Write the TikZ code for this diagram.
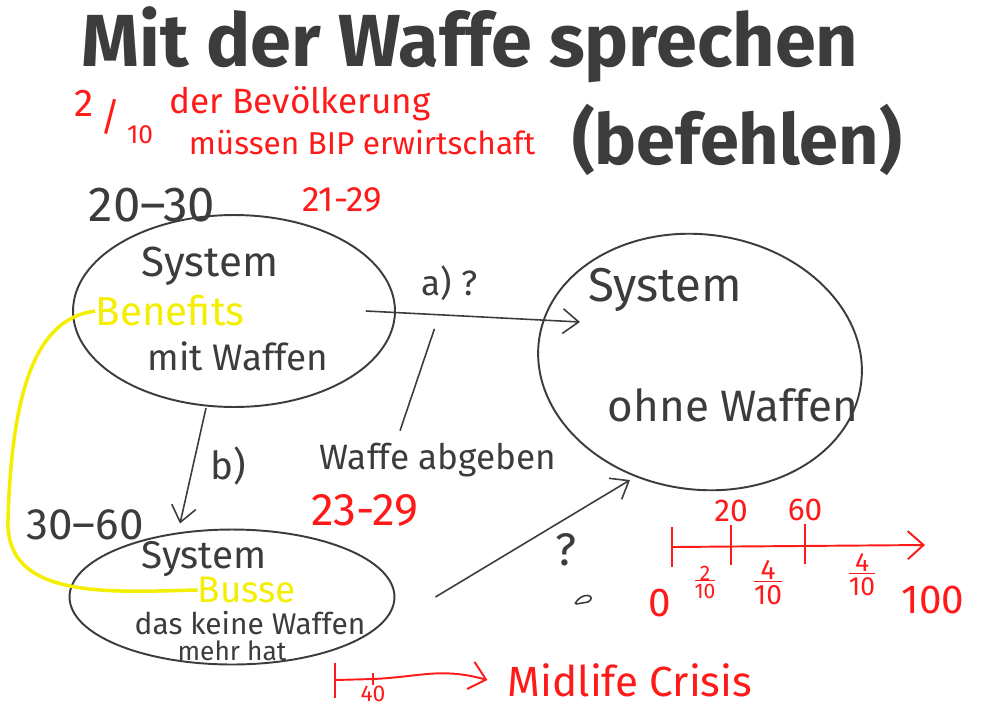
\documentclass[tikz,border=0pt]{standalone}
\usepackage{fontspec}
\setmainfont{Fira Sans}
\usetikzlibrary{arrows.meta,positioning,calc,shapes.geometric}
\definecolor{ink}{HTML}{3C3C3C}
\definecolor{pen}{HTML}{FF1A1A}
\definecolor{marker}{HTML}{F4EE00}
\newcommand{\hfrac}[2]{\begin{tabular}{@{}c@{}}#1\\[-4pt]\hline\noalign{\vskip1pt}#2\end{tabular}}

\begin{document}
\begin{tikzpicture}[
  x=0.02cm, y=-0.02cm,
  blob/.style={
    ellipse,
    draw=ink,
    line width=1.1pt,
    inner sep=0pt
  },
  inktext/.style={text=ink, inner sep=0pt, font=\fontsize{24}{26}\selectfont},
  redtext/.style={text=pen, inner sep=0pt, font=\fontsize{20}{22}\selectfont},
  hltext/.style={text=marker, inner sep=0pt, font=\fontsize{23}{25}\selectfont},
  arrow/.style={-{Straight Barb[length=9pt,width=14pt]}, draw=ink, line width=0.9pt},
  redarrow/.style={-{Straight Barb[length=9pt,width=16pt]}, draw=pen, line width=1.1pt},
  hlline/.style={draw=marker, line width=2pt}
]
\useasboundingbox[fill=white] (0,0) rectangle (1000,707);

% headings
\node[inktext, font=\fontsize{42}{44}\selectfont\bfseries] (title) at (470,45) {Mit der Waffe sprechen};
\node[inktext, font=\fontsize{40}{44}\selectfont\bfseries] (befehlen) at (737,140) {(befehlen)};
\node[redtext, font=\fontsize{22}{24}\selectfont] (share) at (114,117) {\raisebox{8pt}{2}\,/\,\raisebox{-7pt}{\fontsize{15}{16}\selectfont 10}};
\node[redtext] (bev) at (300,104) {der Bevölkerung};
\node[redtext, font=\fontsize{18}{20}\selectfont] (bip) at (362,142) {müssen BIP erwirtschaft};

% systems
\node[blob, minimum width=6.44cm, minimum height=3.84cm] (sysmit) at (234,311) {};
\node[blob, minimum width=6.5cm, minimum height=5.1cm, rotate=-8] (sysohne) at (700,362) {};
\node[blob, minimum width=6.5cm, minimum height=2.7cm] (sysbusse) at (232,597) {};

\node[inktext, font=\fontsize{28}{30}\selectfont] (age1) at (152,205) {20--30};
\node[redtext] (age1r) at (342,200) {21-29};
\node[inktext] (mit1) at (210,266) {System};
\node[hltext] (benefits) at (170,311) {Benefits};
\node[inktext, font=\fontsize{21}{23}\selectfont] (mit2) at (238,356) {mit Waffen};

\node[inktext, font=\fontsize{27}{29}\selectfont] (ohne1) at (665,290) {System};
\node[inktext, font=\fontsize{25}{27}\selectfont] (ohne2) at (733,405) {ohne Waffen};

\node[inktext, font=\fontsize{25}{27}\selectfont] (age2) at (85,525) {30--60};
\node[inktext, font=\fontsize{22}{24}\selectfont] (busse1) at (204,559) {System};
\node[hltext, font=\fontsize{21}{23}\selectfont] (busse) at (247,590) {Busse};
\node[inktext, font=\fontsize{17}{19}\selectfont] (busse2) at (250,623) {das keine Waffen};
\node[inktext, font=\fontsize{15}{17}\selectfont] (busse3) at (232,651) {mehr hat};

% transitions
\draw[arrow] ([xshift=-0.6cm]sysmit.east) -- coordinate[pos=0.25] (amid) ($(sysohne.center)+(-120,-40)$);
\node[inktext, font=\fontsize{20}{22}\selectfont, above=0.25cm of amid, xshift=0.6cm] (qa) {a) ?};
\node[inktext, font=\fontsize{20}{22}\selectfont] (abgeben) at (438,460) {Waffe abgeben};
\node[redtext, font=\fontsize{26}{28}\selectfont] (age3) at (365,510) {23-29};
\draw[draw=ink, line width=0.9pt] ([xshift=-0.76cm,yshift=0.24cm]abgeben.north) -- ([xshift=0.3cm,yshift=-0.3cm]amid);

\draw[arrow] ([xshift=-0.56cm]sysmit.south) -- ([xshift=-1.04cm,yshift=0.1cm]sysbusse.north);
\node[inktext, font=\fontsize{22}{24}\selectfont] (qb) at (228,466) {b)};

\draw[arrow] ([xshift=0.8cm]sysbusse.east) -- (630,480) coordinate (cend);
\node[inktext, font=\fontsize{26}{28}\selectfont] (qc) at (566,550) {?};
\draw[draw=ink, line width=0.9pt] (575,604) .. controls (582,590) and (598,596) .. (588,602) -- (576,604);

% benefit to busse
\draw[hlline] (benefits.west) .. controls (40,318) and (12,380) .. (8,520)
  .. controls (5,600) and (110,592) .. (busse.west);

% age scale
\coordinate (t0) at (672,547);
\coordinate (t20) at (731,545);
\coordinate (t60) at (805,544);
\coordinate (t100) at (925,545);
\draw[redarrow] (t0) -- (t100);
\foreach \t in {t0,t20,t60}
  \draw[draw=pen, line width=1.1pt] ([yshift=0.4cm]\t) -- ([yshift=-0.4cm]\t);
\node[redtext, font=\fontsize{18}{20}\selectfont, above=0.45cm of t20] (l20) {20};
\node[redtext, font=\fontsize{18}{20}\selectfont, above=0.45cm of t60] (l60) {60};
\node[redtext, font=\fontsize{12}{13}\selectfont] (f1) at (705,585) {\hfrac{2}{10}};
\node[redtext, font=\fontsize{16}{17}\selectfont] (f2) at (768,586) {\hfrac{4}{10}};
\node[redtext, font=\fontsize{15}{16}\selectfont] (f3) at (862,578) {\hfrac{4}{10}};
\node[redtext, font=\fontsize{23}{25}\selectfont] (l0) at (660,603) {0};
\node[redtext, font=\fontsize{23}{25}\selectfont] (l100) at (933,600) {100};

% midlife
\coordinate (m0) at (335,680);
\coordinate (m40) at (373,679);
\draw[draw=pen, line width=1.1pt] ([yshift=0.35cm]m0) -- ([yshift=-0.35cm]m0);
\draw[draw=pen, line width=1.1pt] ([yshift=0.12cm]m40) -- ([yshift=-0.12cm]m40);
\node[redtext, font=\fontsize{13}{14}\selectfont, below=0.14cm of m40] (l40) {40};
\node[redtext, font=\fontsize{24}{26}\selectfont] (midlife) at (630,680) {Midlife Crisis};
\draw[redarrow] (m0) -- (m40) .. controls (420,677) and (440,667) .. ([xshift=-0.4cm]midlife.west);
\end{tikzpicture}
\end{document}
